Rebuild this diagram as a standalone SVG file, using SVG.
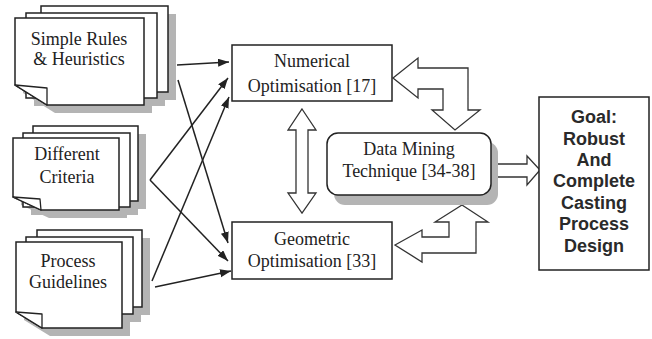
<svg xmlns="http://www.w3.org/2000/svg" width="652" height="339" viewBox="0 0 652 339">
<defs>
<style>
.pg{fill:#fff;stroke:#222;stroke-width:1.5}
.sh{fill:#b4b4b4;stroke:none}
.fold{fill:#fff;stroke:#222;stroke-width:1.3;stroke-linejoin:round}
.t{font-family:"Liberation Serif","Times New Roman",serif;font-size:18px;fill:#222;text-anchor:middle}
.g{font-family:"Liberation Sans",Arial,sans-serif;font-size:18px;font-weight:bold;fill:#2a2a2a;text-anchor:middle}
.box{fill:#fff;stroke:#222;stroke-width:1.5}
.blk{fill:#fff;stroke:#333;stroke-width:1.3;stroke-linejoin:miter}
.ln{stroke:#222;stroke-width:1.5;fill:none;marker-end:url(#ah)}
</style>
<marker id="ah" markerUnits="userSpaceOnUse" markerWidth="12" markerHeight="10" refX="11" refY="4" orient="auto">
<path d="M0,0 L11,4 L0,8 Z" fill="#222"/>
</marker>
</defs>
<rect width="652" height="339" fill="#fff"/>

<g id="simple-rules">
<rect class="sh" x="49" y="14" width="127" height="86"/>
<rect class="sh" x="34" y="21" width="131" height="85"/>
<path class="sh" d="M23,26 H152 V113 H55 L23,93 Z"/>
<rect class="pg" x="41" y="6" width="127" height="86"/>
<rect class="pg" x="26" y="13" width="131" height="85"/>
<path class="pg" d="M15,18 H144 V105 H47 L15,85 Z"/>
<path class="fold" d="M15,85 L47,88 L47,105 Z"/>
<text class="t" x="79" y="45">Simple Rules</text>
<text class="t" x="79" y="65">&amp; Heuristics</text>
</g>

<g id="different-criteria">
<rect class="sh" x="41" y="134" width="105" height="75"/>
<rect class="sh" x="31" y="141" width="107" height="74"/>
<path class="sh" d="M21,146 H127 V218 H49 L21,205 Z"/>
<rect class="pg" x="33" y="126" width="105" height="75"/>
<rect class="pg" x="23" y="133" width="107" height="74"/>
<path class="pg" d="M13,138 H119 V210 H41 L13,197 Z"/>
<path class="fold" d="M13,197 L40,199 L41,210 Z"/>
<text class="t" x="67" y="160">Different</text>
<text class="t" x="67" y="183">Criteria</text>
</g>

<g id="process-guidelines">
<rect class="sh" x="45" y="238" width="105" height="77"/>
<rect class="sh" x="34" y="245" width="107" height="77"/>
<path class="sh" d="M24,250 H130 V336 H50 L24,320 Z"/>
<rect class="pg" x="37" y="230" width="105" height="77"/>
<rect class="pg" x="26" y="237" width="107" height="77"/>
<path class="pg" d="M16,242 H122 V328 H42 L16,312 Z"/>
<path class="fold" d="M16,312 L42,314 L42,328 Z"/>
<text class="t" x="68" y="267">Process</text>
<text class="t" x="68" y="288">Guidelines</text>
</g>

<g id="connectors">
<line class="ln" x1="177" y1="65" x2="229" y2="62"/>
<line class="ln" x1="178" y1="80" x2="228" y2="243"/>
<line class="ln" x1="150" y1="180" x2="228" y2="78"/>
<line class="ln" x1="150" y1="180" x2="228" y2="261"/>
<line class="ln" x1="152" y1="281" x2="229" y2="97"/>
<line class="ln" x1="155" y1="287" x2="231" y2="271"/>
<polygon class="blk" points="302,109 316,130 308,130 308,193 316,193 302,213 288,193 296,193 296,130 288,130"/>
<polygon class="blk" points="393,78 418,58 418,68 468,68 468,110 480,110 455,130 432,110 443,110 443,89 418,89 418,98"/>
<polygon class="blk" points="395,245 422,230 422,237 449,237 449,222 435,222 462,205 488,222 476,222 476,253 422,253 422,262"/>
<polygon class="blk" points="492,164 527,164 527,156 540,170 527,185 527,177 492,177"/>
</g>

<g id="numerical">
<rect class="box" x="232" y="45" width="160" height="56"/>
<text class="t" x="312" y="67">Numerical</text>
<text class="t" x="312" y="92">Optimisation [17]</text>
</g>

<g id="geometric">
<rect class="box" x="232" y="222" width="160" height="57"/>
<text class="t" x="312" y="245">Geometric</text>
<text class="t" x="312" y="267">Optimisation [33]</text>
</g>

<g id="data-mining">
<rect class="sh" x="334" y="142" width="164" height="63" rx="11"/>
<rect class="box" x="327" y="133" width="164" height="62" rx="11"/>
<text class="t" x="409" y="155">Data Mining</text>
<text class="t" x="409" y="177">Technique [34-38]</text>
</g>

<g id="goal">
<rect class="box" x="539" y="97" width="110" height="173"/>
<text class="g" x="594" y="123">Goal:</text>
<text class="g" x="594" y="145">Robust</text>
<text class="g" x="594" y="166">And</text>
<text class="g" x="594" y="187">Complete</text>
<text class="g" x="594" y="209">Casting</text>
<text class="g" x="594" y="230">Process</text>
<text class="g" x="594" y="252">Design</text>
</g>
</svg>
